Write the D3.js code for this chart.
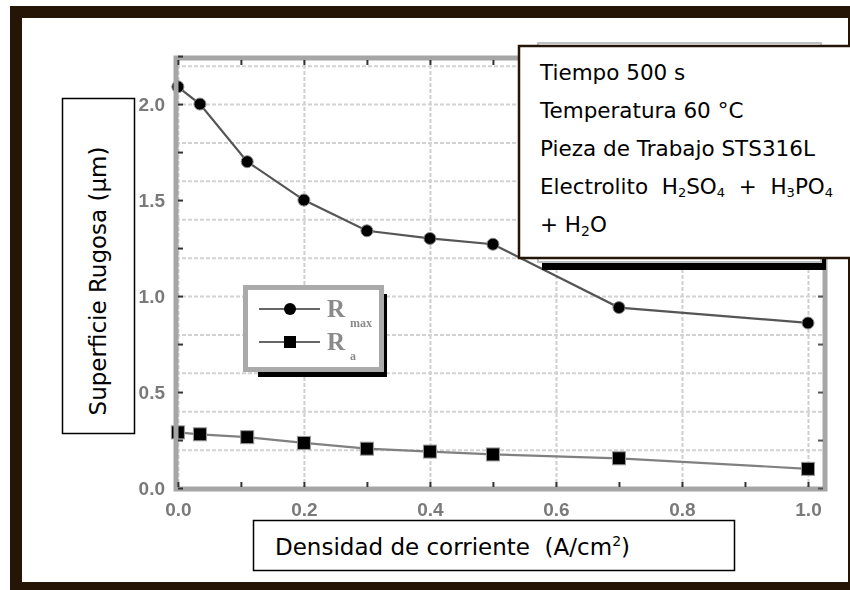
<!DOCTYPE html>
<html>
<head>
<meta charset="utf-8">
<script src="https://cdn.jsdelivr.net/npm/d3@7"></script>
<style>
  body { margin: 0; background: #fff; }
  svg { display: block; }
</style>
</head>
<body>
<div id="graph"></div>
<script>
// valeurs
let densite = [0.0, 0.035, 0.11, 0.2, 0.3, 0.4, 0.5, 0.7, 1.0];
let rMax = [2.09, 2.0, 1.70, 1.50, 1.34, 1.30, 1.27, 0.94, 0.86];
let rA = [0.29, 0.28, 0.265, 0.235, 0.205, 0.19, 0.175, 0.155, 0.10];
let ticksX = [0.0, 0.2, 0.4, 0.6, 0.8, 1.0];
let ticksY = [0.0, 0.5, 1.0, 1.5, 2.0];
let lignesInfo = ["Tiempo 500 s", "Temperatura 60 °C", "Pieza de Trabajo STS316L"];

let largeurTotale = 850, hauteurTotale = 590;
let brun = "#241507";

let svg = d3.select("#graph").append("svg")
    .attr("width", largeurTotale)
    .attr("height", hauteurTotale);

let defs = svg.append("defs");
defs.append("filter").attr("id", "flou")
    .append("feGaussianBlur").attr("stdDeviation", 0.6);

// cadre brun
svg.append("rect").attr("x", 10).attr("y", 6).attr("width", 840).attr("height", 584).attr("fill", brun);
svg.append("rect").attr("x", 22).attr("y", 18).attr("width", 826).attr("height", 564).attr("fill", "#fff");

// echelles
let echelleX = d3.scaleLinear().domain([-0.003, 1.027]).range([176, 825]);
let echelleY = d3.scaleLinear().domain([-0.005, 2.24]).range([489, 58]);
let gauche = 176, droite = 825, haut = 58, bas = 489;

let graphique = svg.append("g");

// grille pointillee
graphique.append("g")
    .attr("transform", "translate(0," + bas + ")")
    .call(d3.axisBottom(echelleX).tickValues(ticksX).tickSize(-(bas - haut)).tickFormat(""))
    .call(g => g.select(".domain").remove())
    .selectAll("line").attr("stroke", "#cfcfcf").attr("stroke-width", 2).attr("stroke-dasharray", "4,2");
graphique.append("g")
    .attr("transform", "translate(" + gauche + ",0)")
    .call(d3.axisLeft(echelleY).ticks(9).tickSize(-(droite - gauche)).tickFormat(""))
    .call(g => g.select(".domain").remove())
    .selectAll("line").attr("stroke", "#d2d2d2").attr("stroke-width", 2).attr("stroke-dasharray", "4,2");

// courbes
let ligne = d3.line()
    .x(function(d, i) { return echelleX(densite[i]); })
    .y(function(d) { return echelleY(d); });

graphique.append("path").datum(rMax)
    .attr("d", ligne).attr("fill", "none").attr("stroke", "#555").attr("stroke-width", 2.2);
graphique.append("path").datum(rA)
    .attr("d", ligne).attr("fill", "none").attr("stroke", "#808080").attr("stroke-width", 2.2);

graphique.selectAll(".cercle").data(rMax).enter().append("circle")
    .attr("class", "cercle")
    .attr("cx", function(d, i) { return echelleX(densite[i]); })
    .attr("cy", function(d) { return echelleY(d); })
    .attr("r", 6)
    .attr("fill", "#000").attr("stroke", "#888").attr("stroke-width", 1);
graphique.selectAll(".carre").data(rA).enter().append("rect")
    .attr("class", "carre")
    .attr("x", function(d, i) { return echelleX(densite[i]) - 6.5; })
    .attr("y", function(d) { return echelleY(d) - 6.5; })
    .attr("width", 13).attr("height", 13)
    .attr("fill", "#000").attr("stroke", "#999").attr("stroke-width", 1);

// cadre gris du graphique
graphique.append("rect")
    .attr("x", gauche).attr("y", haut)
    .attr("width", droite - gauche).attr("height", bas - haut)
    .attr("fill", "none").attr("stroke", "#a6a6a6").attr("stroke-width", 5);

// petites graduations
let petitsX = d3.range(0, 1.01, 0.1);
let petitsY = d3.range(0, 2.26, 0.25);
graphique.append("g").attr("transform", "translate(0," + (bas - 2) + ")")
    .call(d3.axisBottom(echelleX).tickValues(petitsX).tickSize(-5).tickFormat(""))
    .call(g => g.select(".domain").remove())
    .selectAll("line").attr("stroke", "#333").attr("stroke-width", 2);
graphique.append("g").attr("transform", "translate(0," + (haut + 2) + ")")
    .call(d3.axisTop(echelleX).tickValues(petitsX).tickSize(-5).tickFormat(""))
    .call(g => g.select(".domain").remove())
    .selectAll("line").attr("stroke", "#333").attr("stroke-width", 2);
graphique.append("g").attr("transform", "translate(" + (gauche + 2) + ",0)")
    .call(d3.axisLeft(echelleY).tickValues(petitsY).tickSize(-5).tickFormat(""))
    .call(g => g.select(".domain").remove())
    .selectAll("line").attr("stroke", "#333").attr("stroke-width", 2);
graphique.append("g").attr("transform", "translate(" + (droite - 2) + ",0)")
    .call(d3.axisRight(echelleY).tickValues(petitsY).tickSize(-5).tickFormat(""))
    .call(g => g.select(".domain").remove())
    .selectAll("line").attr("stroke", "#555").attr("stroke-width", 2);

// etiquettes des axes (grises et floues)
let axeX = graphique.append("g").attr("transform", "translate(0," + (bas + 10) + ")")
    .call(d3.axisBottom(echelleX).tickValues(ticksX).tickSize(0).tickFormat(d3.format(".1f")));
axeX.select(".domain").remove();
axeX.selectAll("text").attr("dy", "0.72em")
    .style("font-family", "Liberation Sans").style("font-size", "19px").style("font-weight", "bold")
    .attr("fill", "#7a7a7a").attr("filter", "url(#flou)");

let axeY = graphique.append("g").attr("transform", "translate(" + (gauche - 8) + ",0)")
    .call(d3.axisLeft(echelleY).tickValues(ticksY).tickSize(0).tickFormat(d3.format(".1f")));
axeY.select(".domain").remove();
axeY.selectAll("text").attr("dy", "0.35em")
    .style("font-family", "Liberation Sans").style("font-size", "19px").style("font-weight", "bold")
    .attr("fill", "#7a7a7a").attr("filter", "url(#flou)");

// legende
let legende = svg.append("g");
legende.append("rect").attr("x", 258).attr("y", 294).attr("width", 129).attr("height", 83).attr("fill", "#000");
legende.append("rect").attr("x", 245.5).attr("y", 287.5).attr("width", 136).attr("height", 82)
    .attr("fill", "#fff").attr("stroke", "#aaa").attr("stroke-width", 5);
let lignesLeg = [{y: 309, forme: "cercle", sub: "max"}, {y: 342, forme: "carre", sub: "a"}];
lignesLeg.forEach(function(l) {
    legende.append("line").attr("x1", 259).attr("x2", 320).attr("y1", l.y).attr("y2", l.y)
        .attr("stroke", "#666").attr("stroke-width", 2.2);
    if (l.forme === "cercle") {
        legende.append("circle").attr("cx", 290).attr("cy", l.y).attr("r", 6).attr("fill", "#000");
    } else {
        legende.append("rect").attr("x", 284).attr("y", l.y - 6).attr("width", 12).attr("height", 12).attr("fill", "#000");
    }
    let t = legende.append("text").attr("x", 327).attr("y", l.y + 8)
        .style("font-family", "Liberation Serif").style("font-size", "25px").style("font-weight", "bold")
        .attr("fill", "#8a8a8a").attr("filter", "url(#flou)");
    t.append("tspan").text("R");
    t.append("tspan").attr("dx", 5).attr("dy", 10).style("font-size", "12px").text(l.sub);
});

// boite cachee derriere le texte
svg.append("rect").attr("x", 542).attr("y", 48).attr("width", 284).attr("height", 222).attr("fill", "#000");
svg.append("rect").attr("x", 538).attr("y", 43).attr("width", 283).attr("height", 219)
    .attr("fill", "#fff").attr("stroke", "#c0c0c0").attr("stroke-width", 2);

// boite de conditions
svg.append("rect").attr("x", 519).attr("y", 46).attr("width", 340).attr("height", 212)
    .attr("fill", "#fff").attr("stroke", brun).attr("stroke-width", 2.5);

let info = svg.append("g")
    .style("font-family", "DejaVu Sans").style("font-size", "21.5px").attr("fill", "#000");
lignesInfo.forEach(function(txt, i) {
    info.append("text").attr("x", 540).attr("y", 80 + i * 38).text(txt);
});
let elec = info.append("text").attr("x", 540).attr("y", 80 + 3 * 38).style("white-space", "pre");
elec.append("tspan").text("Electrolito  H");
elec.append("tspan").attr("dy", 3).style("font-size", "13px").text("2");
elec.append("tspan").attr("dy", -3).text("SO");
elec.append("tspan").attr("dy", 3).style("font-size", "13px").text("4");
elec.append("tspan").attr("dy", -3).text("  +  H");
elec.append("tspan").attr("dy", 3).style("font-size", "13px").text("3");
elec.append("tspan").attr("dy", -3).text("PO");
elec.append("tspan").attr("dy", 3).style("font-size", "13px").text("4");
let eau = info.append("text").attr("x", 540).attr("y", 80 + 4 * 38);
eau.append("tspan").text("+ H");
eau.append("tspan").attr("dy", 4).style("font-size", "14px").text("2");
eau.append("tspan").attr("dy", -4).text("O");

// titre axe Y
svg.append("rect").attr("x", 62.5).attr("y", 98.5).attr("width", 72).attr("height", 335)
    .attr("fill", "#fff").attr("stroke", "#000").attr("stroke-width", 1.5);
svg.append("text")
    .attr("transform", "translate(106,281) rotate(-90)")
    .attr("text-anchor", "middle")
    .style("font-family", "DejaVu Sans").style("font-size", "23px")
    .text("Superficie Rugosa (µm)");

// titre axe X
svg.append("rect").attr("x", 253.5).attr("y", 520.5).attr("width", 481).attr("height", 50)
    .attr("fill", "#fff").attr("stroke", "#000").attr("stroke-width", 1.5);
let titreX = svg.append("text").attr("x", 275).attr("y", 555)
    .style("font-family", "DejaVu Sans").style("font-size", "23px").style("white-space", "pre");
titreX.append("tspan").text("Densidad de corriente  (A/cm");
titreX.append("tspan").attr("dy", -9).style("font-size", "14px").text("2");
titreX.append("tspan").attr("dy", 9).text(")");
</script>
</body>
</html>
